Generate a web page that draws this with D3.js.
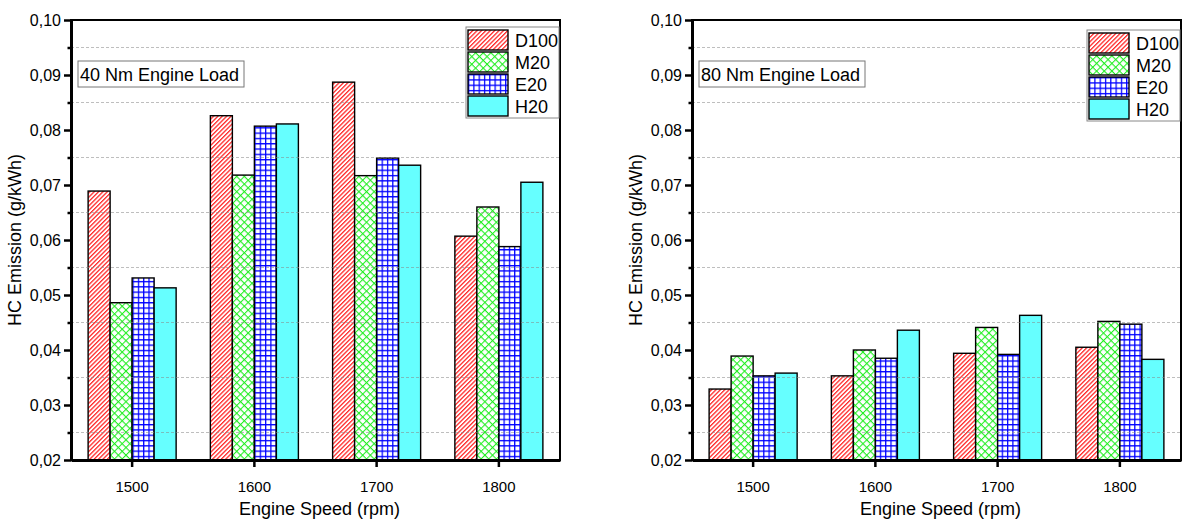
<!DOCTYPE html>
<html>
<head>
<meta charset="utf-8">
<script src="https://cdn.jsdelivr.net/npm/d3@7"></script>
<style>
  body { margin: 0; background: #fff; }
  text { font-family: "Liberation Sans", Arial, sans-serif; fill: #000; }
</style>
</head>
<body>
<div id="chart"></div>
<script>
// categories and series
const speeds = ["1500", "1600", "1700", "1800"];
const fuels = ["D100", "M20", "E20", "H20"];
const yTicks = [0.02, 0.03, 0.04, 0.05, 0.06, 0.07, 0.08, 0.09, 0.10];
const yMinor = [0.025, 0.035, 0.045, 0.055, 0.065, 0.075, 0.085, 0.095];

// 40 Nm load
const d100At40 = [0.0689, 0.0826, 0.0887, 0.0607];
const m20At40  = [0.0486, 0.0718, 0.0717, 0.0660];
const e20At40  = [0.0531, 0.0807, 0.0749, 0.0588];
const h20At40  = [0.0513, 0.0811, 0.0736, 0.0705];

// 80 Nm load
const d100At80 = [0.0329, 0.0353, 0.0394, 0.0405];
const m20At80  = [0.0389, 0.0400, 0.0441, 0.0452];
const e20At80  = [0.0353, 0.0385, 0.0392, 0.0447];
const h20At80  = [0.0358, 0.0436, 0.0463, 0.0383];

const width = 1182, height = 521;
const plotTop = 20, plotBottom = 460, plotW = 489;

const svg = d3.select("#chart").append("svg")
  .attr("width", width).attr("height", height);

// fill patterns
const defs = svg.append("defs");
const red = defs.append("pattern").attr("id", "pD100")
  .attr("patternUnits", "userSpaceOnUse").attr("width", 3.1).attr("height", 10)
  .attr("patternTransform", "rotate(45)");
red.append("rect").attr("width", 3.1).attr("height", 10).attr("fill", "#fff");
red.append("rect").attr("width", 1.3).attr("height", 10).attr("fill", "#ff2a2a");

const green = defs.append("pattern").attr("id", "pM20")
  .attr("patternUnits", "userSpaceOnUse").attr("width", 5.4).attr("height", 5.4)
  .attr("patternTransform", "rotate(45)");
green.append("rect").attr("width", 5.4).attr("height", 5.4).attr("fill", "#fff");
green.append("path").attr("d", "M0,0.5H5.4M0.5,0V5.4")
  .attr("stroke", "#22ee22").attr("stroke-width", 1.1);

const blue = defs.append("pattern").attr("id", "pE20")
  .attr("patternUnits", "userSpaceOnUse").attr("width", 5.3).attr("height", 5.3);
blue.append("rect").attr("width", 5.3).attr("height", 5.3).attr("fill", "#fff");
blue.append("path").attr("d", "M0,0.6H5.3M0.6,0V5.3")
  .attr("stroke", "#0000ff").attr("stroke-width", 1.3);

const fills = { D100: "url(#pD100)", M20: "url(#pM20)", E20: "url(#pE20)", H20: "#66ffff" };

const fmt = d3.formatLocale({ decimal: ",", thousands: ".", grouping: [3], currency: ["", ""] }).format(".2f");

function drawPanel(x0, series, title, legendTop) {
  const g = svg.append("g");
  const x = d3.scaleBand().domain(speeds).range([x0, x0 + plotW]).padding(0);
  const inner = d3.scaleBand().domain(fuels)
    .range([-x.bandwidth() * 0.36, x.bandwidth() * 0.36]).padding(0);
  const y = d3.scaleLinear().domain([0.02, 0.10]).range([plotBottom, plotTop]);

  const rows = [];
  fuels.forEach((f, i) => {
    series[i].forEach((v, j) => rows.push({ fuel: f, speed: speeds[j], value: v }));
  });

  g.selectAll("rect.bar").data(rows).enter().append("rect")
    .attr("class", "bar")
    .attr("x", d => x(d.speed) + x.bandwidth() / 2 + inner(d.fuel))
    .attr("y", d => y(d.value))
    .attr("width", inner.bandwidth())
    .attr("height", d => y(0.02) - y(d.value))
    .attr("fill", d => fills[d.fuel])
    .attr("stroke", "#000").attr("stroke-width", 1.4);

  // dashed grid at minor values
  g.selectAll("line.grid").data(yMinor).enter().append("line")
    .attr("x1", x0).attr("x2", x0 + plotW)
    .attr("y1", d => y(d)).attr("y2", d => y(d))
    .attr("stroke", "#888").attr("stroke-opacity", 0.55)
    .attr("stroke-dasharray", "3,2");

  // frame
  g.append("rect").attr("x", x0).attr("y", plotTop).attr("width", plotW).attr("height", plotBottom - plotTop)
    .attr("fill", "none").attr("stroke", "#000").attr("stroke-width", 2);

  const yAxis = g.append("g").attr("transform", `translate(${x0},0)`)
    .call(d3.axisLeft(y).tickValues(yTicks).tickFormat(fmt).tickSize(7).tickPadding(3).tickSizeOuter(0));
  yAxis.select(".domain").attr("stroke-width", 3);
  yAxis.selectAll(".tick line").attr("stroke-width", 2.5);
  yAxis.selectAll("text").style("font-size", "16px");

  const yMinAxis = g.append("g").attr("transform", `translate(${x0},0)`)
    .call(d3.axisLeft(y).tickValues(yMinor).tickFormat("").tickSize(3.5).tickSizeOuter(0));
  yMinAxis.select(".domain").remove();
  yMinAxis.selectAll(".tick line").attr("stroke-width", 2.5);

  const xAxis = g.append("g").attr("transform", `translate(0,${plotBottom})`)
    .call(d3.axisBottom(x).tickSize(7).tickPadding(14).tickSizeOuter(0));
  xAxis.select(".domain").attr("stroke-width", 3);
  xAxis.selectAll(".tick line").attr("stroke-width", 2.5);
  xAxis.selectAll("text").style("font-size", "15px");

  g.append("text").attr("x", x0 + plotW / 2 + 4).attr("y", 515)
    .attr("text-anchor", "middle").style("font-size", "18px").text("Engine Speed (rpm)");
  g.append("text")
    .attr("transform", `translate(${x0 - 50},${(plotTop + plotBottom) / 2}) rotate(-90)`)
    .attr("text-anchor", "middle").style("font-size", "18px").text("HC Emission (g/kWh)");

  // load label
  g.append("rect").attr("x", x0 + 7).attr("y", 61).attr("width", 166).attr("height", 26)
    .attr("fill", "#fff").attr("stroke", "#777").attr("stroke-width", 1);
  g.append("text").attr("x", x0 + 9).attr("y", 81).style("font-size", "18px").text(title);

  // legend
  const lx = x0 + plotW - 94;
  const leg = g.append("g").attr("transform", `translate(${lx},${legendTop})`);
  leg.append("rect").attr("width", 93).attr("height", 91)
    .attr("fill", "#fff").attr("stroke", "#888").attr("stroke-width", 1);
  const items = leg.selectAll("g.item").data(fuels).enter().append("g")
    .attr("transform", (d, i) => `translate(2,${3 + i * 22})`);
  items.append("rect").attr("width", 40).attr("height", 20)
    .attr("fill", d => fills[d]).attr("stroke", "#000").attr("stroke-width", 1.4);
  items.append("text").attr("x", 47).attr("y", 17).style("font-size", "18px").text(d => d);
}

drawPanel(71, [d100At40, m20At40, e20At40, h20At40], "40 Nm Engine Load", 27);
drawPanel(692, [d100At80, m20At80, e20At80, h20At80], "80 Nm Engine Load", 30);
</script>
</body>
</html>
